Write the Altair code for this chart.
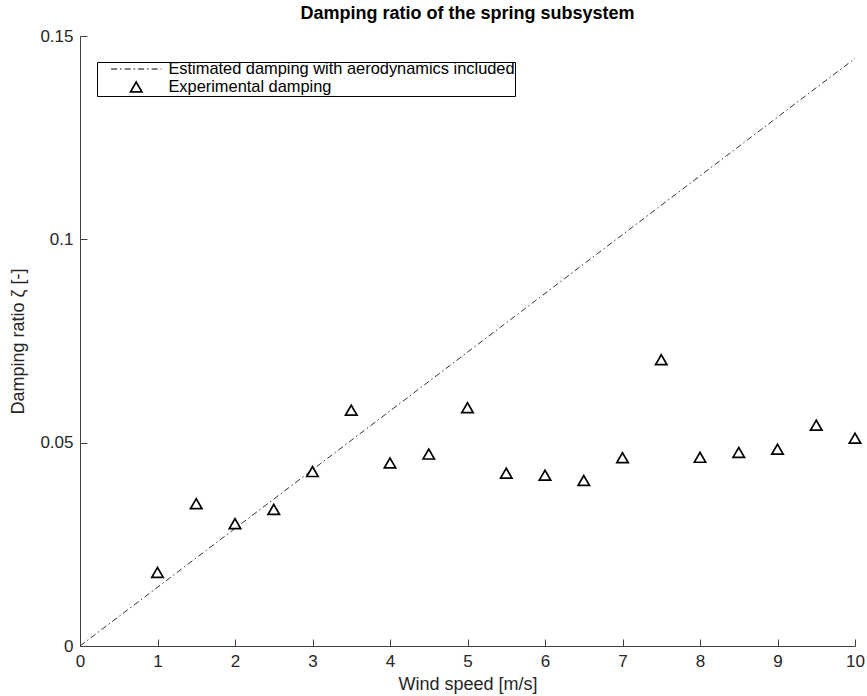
import altair as alt
import pandas as pd

# Experimental damping points
wind = [1.0, 1.5, 2.0, 2.5, 3.0, 3.5, 4.0, 4.5, 5.0, 5.5, 6.0, 6.5, 7.0, 7.5, 8.0, 8.5, 9.0, 9.5, 10.0]
zeta_exp = [0.0181, 0.0350, 0.0301, 0.0336, 0.0429, 0.0580, 0.0450, 0.0472, 0.0586, 0.0425,
            0.0420, 0.0407, 0.0463, 0.0704, 0.0464, 0.0476, 0.0484, 0.0543, 0.0511]

# Estimated damping (straight line)
wind_est = [0.0, 10.0]
zeta_est = [0.0, 0.1445]

S_EST = "Estimated damping with aerodynamics included"
S_EXP = "Experimental damping"

df_exp = pd.DataFrame({"x": wind, "y": zeta_exp, "series": S_EXP})
df_est = pd.DataFrame({"x": wind_est, "y": zeta_est, "series": S_EST})

FONT = "Liberation Sans"
TXT = "#262626"
AX = "#404040"

domain = [S_EST, S_EXP]
legend = alt.Legend(
    orient="none", legendX=17, legendY=26, title=None,
    strokeColor="black", fillColor="white", padding=0,
    labelFont=FONT, labelFontSize=16.4, labelColor="black", labelLimit=1000,
    symbolOffset=31, labelOffset=24, rowPadding=1, clipHeight=14,
    symbolStrokeColor="black", symbolFillColor="transparent", symbolSize=130,
)

shape_scale = alt.Scale(domain=domain, range=["M-4.4,0H4.4", "triangle-up"])
dash_scale = alt.Scale(domain=domain, range=[[6, 3, 1.5, 3], [1, 0]])
sw_scale = alt.Scale(domain=domain, range=[1.0, 1.7])

x_enc = alt.X("x:Q", scale=alt.Scale(domain=[0, 10], nice=False),
              axis=alt.Axis(values=list(range(0, 11)), title="Wind speed [m/s]",
                            titleY=38, titleBaseline="middle"))
y_enc = alt.Y("y:Q", scale=alt.Scale(domain=[0, 0.15], nice=False),
              axis=alt.Axis(values=[0, 0.05, 0.1, 0.15], format=".2~f",
                            title="Damping ratio ζ [-]", titleX=-62, titleY=305,
                            titleBaseline="middle", titleAngle=-90))

line = alt.Chart(df_est).mark_line(color="#303030").encode(
    x=x_enc, y=y_enc,
    strokeDash=alt.StrokeDash("series:N", scale=dash_scale, legend=legend),
    strokeWidth=alt.StrokeWidth("series:N", scale=sw_scale, legend=legend),
)

pts = alt.Chart(df_exp).mark_point(color="black", filled=False, opacity=1).encode(
    x=x_enc, y=y_enc,
    shape=alt.Shape("series:N", scale=shape_scale, legend=legend),
    strokeDash=alt.StrokeDash("series:N", scale=dash_scale, legend=legend),
    strokeWidth=alt.StrokeWidth("series:N", scale=sw_scale, legend=legend),
    size=alt.value(130),
)

chart = alt.layer(line, pts).properties(
    width=775, height=610,
    title=alt.Title("Damping ratio of the spring subsystem", font=FONT, fontSize=18,
                    fontWeight="bold", color="black", anchor="middle", offset=4),
    autosize=alt.AutoSizeParams(type="none"),
    padding={"left": 80, "top": 36, "right": 12, "bottom": 50},
).configure_view(stroke=None).configure_axis(
    grid=False, domainColor=AX, tickColor=AX, domainWidth=1, tickWidth=1,
    tickSize={"expr": "-7"}, labelPadding=14, labelFlush=False,
    labelFont=FONT, labelFontSize=17, labelColor=TXT,
    titleFont=FONT, titleFontSize=18, titleColor=TXT, titleFontWeight="normal",
)

chart.save("out.html", embed_options={"renderer": "svg", "actions": False})
